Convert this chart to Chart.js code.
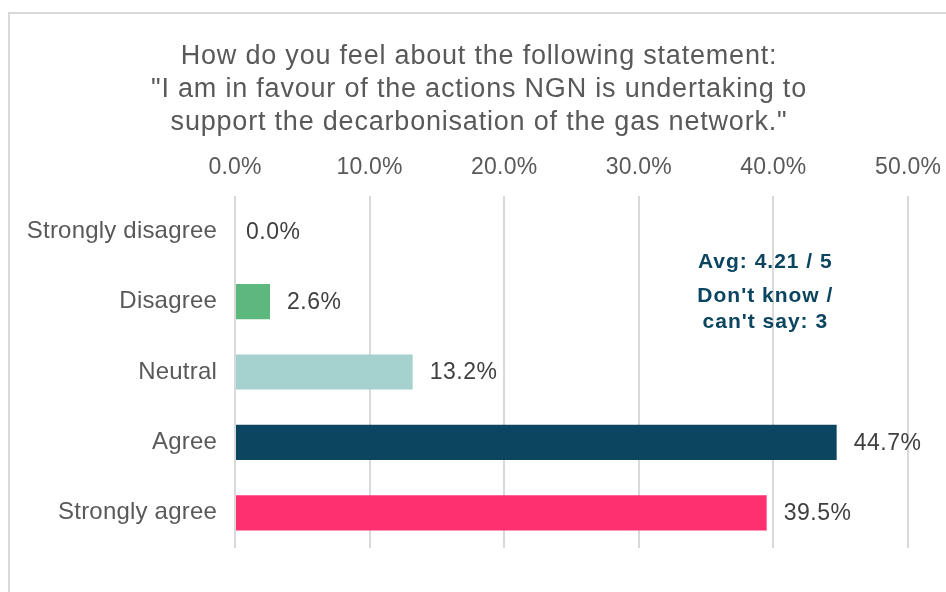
<!DOCTYPE html>
<html>
<head>
<meta charset="utf-8">
<script src="https://cdn.jsdelivr.net/npm/chart.js@4.4.1/dist/chart.umd.min.js"></script>
<style>
  html, body { margin: 0; padding: 0; background: #ffffff; }
  #wrap { position: relative; width: 946px; height: 592px; overflow: hidden; }
  #frame { position: absolute; left: 8px; top: 12px; width: 960px; height: 600px; border: 2px solid #d9d9d9; box-sizing: border-box; }
  #chart { position: absolute; left: 0; top: 0; }
</style>
</head>
<body>
<div id="wrap">
  <div id="frame"></div>
  <canvas id="chart" width="946" height="592"></canvas>
</div>
<script>
// Survey response shares, in percent
const categories = ['Strongly disagree', 'Disagree', 'Neutral', 'Agree', 'Strongly agree'];
const shares = [0.0, 2.6, 13.2, 44.7, 39.5];
const barColors = ['#5cb87c', '#5cb87c', '#a5d1cf', '#0b4560', '#ff306f'];
const xTicks = [0, 10, 20, 30, 40, 50];
const titleLines = [
  'How do you feel about the following statement:',
  '"I am in favour of the actions NGN is undertaking to',
  'support the decarbonisation of the gas network."'
];
const noteLines = ['Avg: 4.21 / 5', "Don't know /", "can't say: 3"];

const TEXT = '#595959';
const LABEL = '#404040';
const NOTE = '#0b4560';
const FONT = "'Liberation Sans', Arial, sans-serif";

// Excel draws its text a little wider than Arial, so add some spacing
const spacing = {
  id: 'spacing',
  beforeDraw(chart) {
    chart.ctx.letterSpacing = '0.2px';
  }
};

// three-line heading, drawn by hand so it can be spaced out
const heading = {
  id: 'heading',
  afterDraw(chart) {
    const ctx = chart.ctx;
    const cx = chart.width / 2 + 6;
    ctx.save();
    ctx.letterSpacing = '0.8px';
    ctx.font = '27px ' + FONT;
    ctx.fillStyle = TEXT;
    ctx.textAlign = 'center';
    ctx.textBaseline = 'alphabetic';
    titleLines.forEach((line, i) => {
      ctx.fillText(line, cx, 64 + i * 33);
    });
    ctx.restore();
  }
};

// value labels to the right of each bar
const valueLabels = {
  id: 'valueLabels',
  afterDatasetsDraw(chart) {
    const ctx = chart.ctx;
    const meta = chart.getDatasetMeta(0);
    ctx.save();
    ctx.letterSpacing = '0.5px';
    ctx.font = '23px ' + FONT;
    ctx.fillStyle = LABEL;
    ctx.textAlign = 'left';
    ctx.textBaseline = 'middle';
    meta.data.forEach((bar, i) => {
      const gap = shares[i] === 0 ? 11 : 17;
      ctx.fillText(shares[i].toFixed(1) + '%', bar.x + gap, bar.y + 1);
    });
    ctx.restore();
  }
};

// the "Avg" note
const noteText = {
  id: 'noteText',
  afterDraw(chart) {
    const ctx = chart.ctx;
    const x = chart.scales.x.getPixelForValue(39.4);
    const y0 = chart.scales.y.getPixelForValue(0);
    const y1 = chart.scales.y.getPixelForValue(1);
    const step = y1 - y0;
    ctx.save();
    ctx.letterSpacing = '1px';
    ctx.font = 'bold 21px ' + FONT;
    ctx.fillStyle = NOTE;
    ctx.textAlign = 'center';
    ctx.textBaseline = 'alphabetic';
    ctx.fillText(noteLines[0], x, y0 + step * 0.52);
    ctx.fillText(noteLines[1], x, y0 + step * 1.0);
    ctx.fillText(noteLines[2], x, y0 + step * 1.375);
    ctx.restore();
  }
};

new Chart(document.getElementById('chart'), {
  type: 'bar',
  data: {
    labels: categories,
    datasets: [{
      data: shares,
      backgroundColor: barColors,
      borderWidth: 0,
      barPercentage: 0.5,
      categoryPercentage: 1.0
    }]
  },
  options: {
    indexAxis: 'y',
    responsive: false,
    animation: false,
    layout: { padding: { left: 0, right: 38, top: 138, bottom: 44 } },
    plugins: {
      legend: { display: false },
      tooltip: { enabled: false },
      title: { display: false }
    },
    scales: {
      x: {
        position: 'top',
        min: 0,
        max: 50,
        afterBuildTicks(scale) {
          scale.ticks = xTicks.map(v => ({ value: v }));
        },
        afterFit(scale) {
          scale.height = 58;
          scale.paddingLeft = 0;
          scale.paddingRight = 0;
        },
        border: { display: false },
        grid: { color: '#d9d9d9', lineWidth: 2, drawTicks: false },
        ticks: {
          color: TEXT,
          padding: 15,
          font: { family: FONT, size: 23 },
          callback: v => v.toFixed(1) + '%'
        }
      },
      y: {
        afterFit(scale) { scale.width = 235; },
        border: { display: false },
        grid: { display: false, drawTicks: false },
        ticks: {
          color: TEXT,
          padding: 18,
          font: { family: FONT, size: 24 }
        }
      }
    }
  },
  plugins: [spacing, heading, valueLabels, noteText]
});
</script>
</body>
</html>
